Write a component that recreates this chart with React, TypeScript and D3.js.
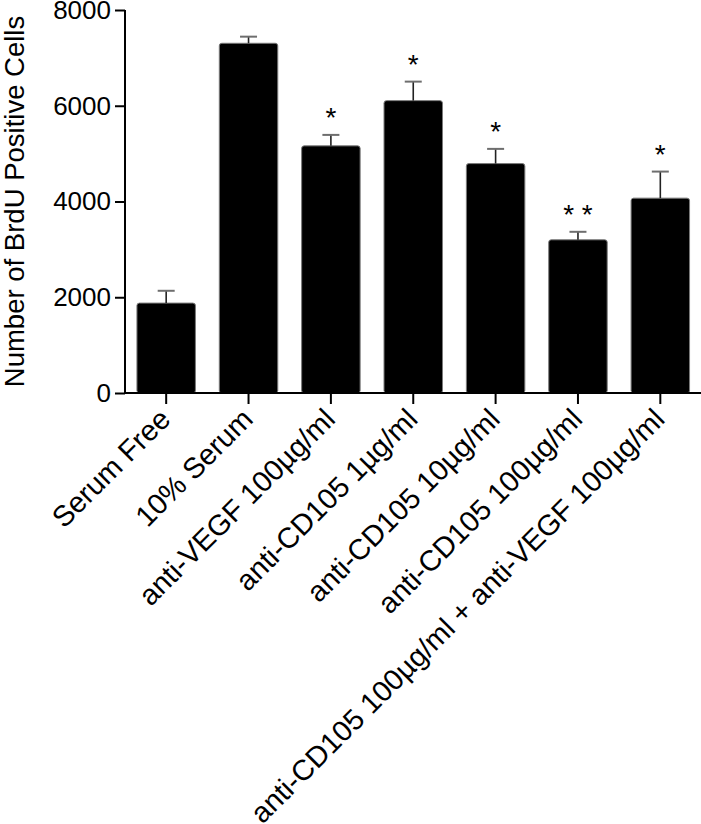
import React, { useEffect, useRef } from "react";
import * as d3 from "d3";

const categories = [
  "Serum Free",
  "10% Serum",
  "anti-VEGF 100µg/ml",
  "anti-CD105 1µg/ml",
  "anti-CD105 10µg/ml",
  "anti-CD105 100µg/ml",
  "anti-CD105 100µg/ml + anti-VEGF 100µg/ml",
];
const means = [1878, 7305, 5162, 6107, 4792, 3200, 4070];
const errors = [257, 138, 229, 397, 307, 167, 555];
const stars = ["", "", "*", "*", "*", "* *", "*"];
const yTicks = [0, 2000, 4000, 6000, 8000];

const FONT = "'Liberation Sans', Arial, Helvetica, sans-serif";

export default function App() {
  const ref = useRef<SVGSVGElement | null>(null);

  useEffect(() => {
    const width = 701;
    const height = 824;
    const left = 125;
    const right = 701;
    const top = 10;
    const bottom = 393;

    const svg = d3.select(ref.current);
    svg.selectAll("*").remove();
    svg.attr("width", width).attr("height", height);

    const x = d3
      .scaleBand<string>()
      .domain(categories)
      .range([left, right + 0.5])
      .paddingInner(0.29)
      .paddingOuter(0.145);

    const y = d3.scaleLinear().domain([0, 8000]).range([bottom, top]);

    const data = categories.map((c, i) => ({
      name: c,
      mean: means[i],
      err: errors[i],
      star: stars[i],
    }));

    // bars
    svg
      .append("g")
      .selectAll("rect")
      .data(data)
      .enter()
      .append("rect")
      .attr("x", (d) => x(d.name)!)
      .attr("y", (d) => y(d.mean))
      .attr("width", x.bandwidth())
      .attr("height", (d) => y(0) - y(d.mean))
      .attr("rx", 2.5)
      .attr("fill", "#000")
      .attr("stroke", "#7a7a7a")
      .attr("stroke-width", 1);

    // error bars (upper only)
    const eb = svg.append("g").selectAll("g").data(data).enter().append("g");
    eb.append("line")
      .attr("x1", (d) => x(d.name)! + x.bandwidth() / 2)
      .attr("x2", (d) => x(d.name)! + x.bandwidth() / 2)
      .attr("y1", (d) => y(d.mean))
      .attr("y2", (d) => y(d.mean + d.err))
      .attr("stroke", "#222")
      .attr("stroke-width", 1.6);
    eb.append("line")
      .attr("x1", (d) => x(d.name)! + x.bandwidth() / 2 - 8.5)
      .attr("x2", (d) => x(d.name)! + x.bandwidth() / 2 + 8.5)
      .attr("y1", (d) => y(d.mean + d.err))
      .attr("y2", (d) => y(d.mean + d.err))
      .attr("stroke", "#6e6e6e")
      .attr("stroke-width", 2);

    // significance stars
    svg
      .append("g")
      .selectAll("text")
      .data(data.filter((d) => d.star))
      .enter()
      .append("text")
      .attr("x", (d) => x(d.name)! + x.bandwidth() / 2)
      .attr("y", (d) => y(d.mean + d.err) - 8)
      .attr("text-anchor", "middle")
      .style("font-family", FONT)
      .style("font-size", "28px")
      .style("white-space", "pre")
      .text((d) => d.star);

    // y axis
    const yAxis = svg
      .append("g")
      .attr("transform", `translate(${left},0)`)
      .call(d3.axisLeft(y).tickValues(yTicks).tickSize(10).tickPadding(4).tickFormat(d3.format("d")));
    yAxis.select(".domain").attr("stroke", "#000").attr("stroke-width", 2).attr("d", `M0,${top}V${bottom}`);
    yAxis.selectAll(".tick line").attr("stroke", "#000").attr("stroke-width", 2);
    yAxis
      .selectAll(".tick text")
      .style("font-family", FONT)
      .style("font-size", "26px")
      .attr("fill", "#000");

    // x axis
    const xAxis = svg
      .append("g")
      .attr("transform", `translate(0,${bottom})`)
      .call(d3.axisBottom(x).tickSize(11).tickSizeOuter(0));
    xAxis.select(".domain").attr("stroke", "#000").attr("stroke-width", 2).attr("d", `M${left},0H${right}`);
    xAxis.selectAll(".tick line").attr("stroke", "#000").attr("stroke-width", 2);
    xAxis
      .selectAll(".tick text")
      .style("font-family", FONT)
      .style("font-size", "29px")
      .attr("fill", "#000")
      .attr("text-anchor", "end")
      .attr("x", 0)
      .attr("y", 0)
      .attr("dy", 0)
      .attr("transform", "translate(6,28) rotate(-45)");

    // y axis title
    svg
      .append("text")
      .attr("transform", `translate(24,${(top + bottom) / 2}) rotate(-90)`)
      .attr("text-anchor", "middle")
      .style("font-family", FONT)
      .style("font-size", "27.5px")
      .attr("fill", "#000")
      .text("Number of BrdU Positive Cells");
  }, []);

  return (
    <svg
      ref={ref}
      style={{ position: "absolute", left: 0, top: 0, background: "#fff" }}
    />
  );
}
